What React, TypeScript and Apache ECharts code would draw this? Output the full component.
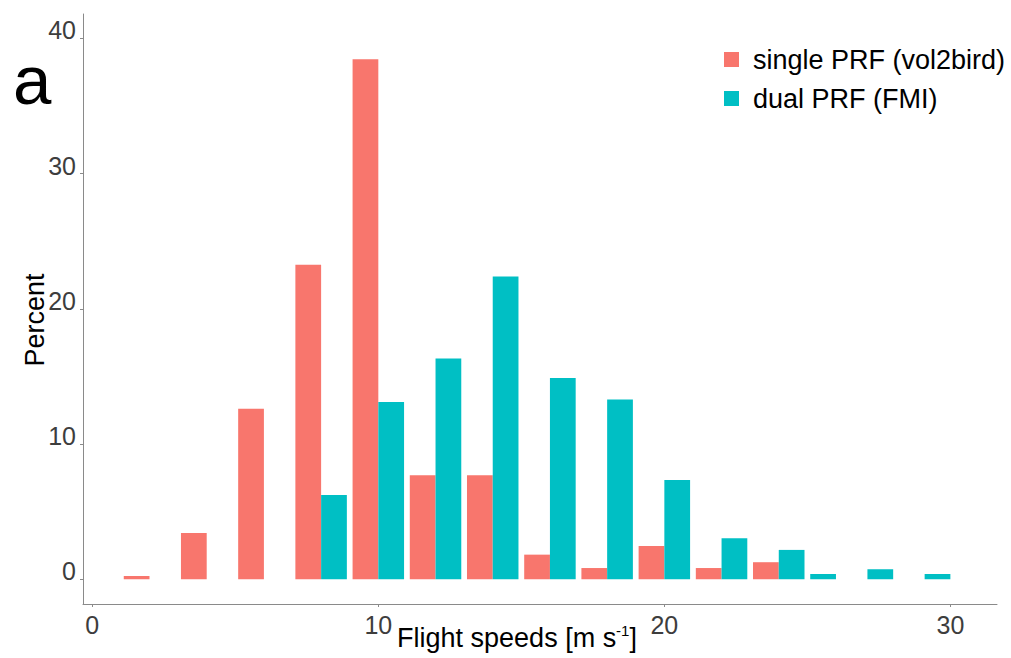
import React, { useEffect, useRef } from "react";
import * as echarts from "echarts";

const binCenters = [2, 4, 6, 8, 10, 12, 14, 16, 18, 20, 22, 24, 26, 28, 30];
// null = no bar for that group in that bin
const singlePRF = [0.24, 3.42, 12.6, 23.25, 38.46, 7.69, 7.69, 1.82, 0.83, 2.46, 0.83, 1.26, null, null, null];
const dualPRF = [null, null, null, 6.23, 13.1, 16.33, 22.39, 14.88, 13.3, 7.34, 3.03, 2.17, 0.39, 0.74, 0.39];
const xTicks = [0, 10, 20, 30];
const yTicks = [0, 10, 20, 30, 40];
const seriesNames = ["single PRF (vol2bird)", "dual PRF (FMI)"];
const colors = ["#F8766D", "#00BFC4"];
const slotWidth = 0.9;

const FONT = "Liberation Sans, Arial, sans-serif";

function makeSeries(name: string, values: (number | null)[], other: (number | null)[], color: string, slot: number) {
  const data: number[][] = [];
  binCenters.forEach((b, i) => {
    const v = values[i];
    if (v === null) return;
    // dodge with preserve = "single": a lone bar takes the first slot
    const s = other[i] === null ? 0 : slot;
    data.push([b, v, s]);
  });
  return {
    type: "custom",
    name,
    itemStyle: { color },
    data,
    encode: { x: 0, y: 1 },
    renderItem: (_params: any, api: any) => {
      const b = api.value(0);
      const v = api.value(1);
      const s = api.value(2);
      const left = b - slotWidth + s * slotWidth;
      const p1 = api.coord([left, v]);
      const p0 = api.coord([left + slotWidth, 0]);
      return {
        type: "rect",
        shape: { x: p1[0], y: p1[1], width: p0[0] - p1[0], height: p0[1] - p1[1] },
        style: { fill: color },
      };
    },
  };
}

export default function App() {
  const ref = useRef<HTMLDivElement>(null);
  useEffect(() => {
    if (!ref.current) return;
    const chart = echarts.init(ref.current, undefined, { renderer: "svg" });
    const axisColor = "#8a8a8a";
    chart.setOption({
      animation: false,
      backgroundColor: "#ffffff",
      textStyle: { fontFamily: FONT },
      grid: { left: 83, right: 14, top: 14, bottom: 54, containLabel: false },
      legend: {
        orient: "vertical",
        left: 719,
        top: 41,
        padding: 5,
        itemWidth: 15,
        itemHeight: 15,
        itemGap: 12,
        data: seriesNames.map((n) => ({ name: n, icon: "rect" })),
        textStyle: { fontSize: 27, color: "#000", fontFamily: FONT, padding: [0, 0, 0, 9] },
        selectedMode: false,
      },
      xAxis: {
        type: "value",
        min: -0.325,
        max: 31.63,
        axisLine: { show: true, onZero: false, lineStyle: { color: axisColor, width: 1 } },
        axisTick: { show: true, length: 3, lineStyle: { color: axisColor }, customValues: xTicks },
        axisLabel: { fontSize: 25, color: "#3d3d3d", margin: 8, fontFamily: FONT, customValues: xTicks },
        splitLine: { show: false },
      },
      yAxis: {
        type: "value",
        min: -1.83,
        max: 41.8,
        axisLine: { show: true, onZero: false, lineStyle: { color: axisColor, width: 1 } },
        axisTick: { show: true, length: 3, lineStyle: { color: axisColor }, customValues: yTicks },
        axisLabel: {
          fontSize: 25,
          color: "#3d3d3d",
          margin: 7,
          fontFamily: FONT,
          customValues: yTicks,
          verticalAlign: "bottom",
          lineHeight: 16,
        },
        splitLine: { show: false },
      },
      graphic: [
        {
          type: "text",
          x: 13,
          y: 80,
          style: { text: "a", fontSize: 69, fill: "#000", fontFamily: FONT, align: "left", verticalAlign: "middle" },
        },
        {
          type: "text",
          x: 35,
          y: 320,
          rotation: Math.PI / 2,
          style: { text: "Percent", fontSize: 27, fill: "#000", fontFamily: FONT, align: "center", verticalAlign: "middle" },
        },
        {
          type: "text",
          x: 517,
          y: 638,
          style: {
            text: "{a|Flight speeds [m s}{b|-1}{a|]}",
            align: "center",
            verticalAlign: "middle",
            rich: {
              a: { fontSize: 27, fill: "#000", fontFamily: FONT, lineHeight: 30 },
              b: { fontSize: 15, fill: "#000", fontFamily: FONT, verticalAlign: "top", lineHeight: 16 },
            },
          },
        },
      ],
      series: [
        makeSeries(seriesNames[0], singlePRF, dualPRF, colors[0], 0),
        makeSeries(seriesNames[1], dualPRF, singlePRF, colors[1], 1),
      ],
    });
    return () => chart.dispose();
  }, []);
  return <div ref={ref} style={{ position: "fixed", left: 0, top: 0, width: 1011, height: 658 }} />;
}
